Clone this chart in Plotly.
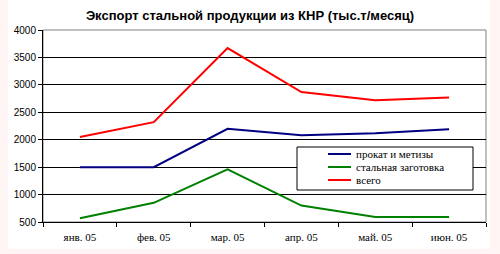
import plotly.graph_objects as go

months = ["янв. 05", "фев. 05", "мар. 05", "апр. 05", "май. 05", "июн. 05"]
prokat = [1500, 1500, 2200, 2080, 2120, 2190]
zagotovka = [570, 850, 1460, 800, 590, 590]
vsego = [2050, 2320, 3670, 2870, 2720, 2770]
names = ["прокат и метизы", "стальная заготовка", "всего"]
colors = ["#000080", "#008000", "#ff0000"]

W, H = 500, 254
L, R, T, B = 43, 14, 30, 32
pw, ph = W - L - R, H - T - B
SERIF = "Liberation Serif, Times New Roman, serif"

fig = go.Figure()
for name, vals, c in zip(names, [prokat, zagotovka, vsego], colors):
    fig.add_trace(go.Scatter(x=months, y=vals, name=name, mode="lines",
                             line=dict(color=c, width=2), showlegend=False))

def px(x):
    return (x - L) / pw

def py(y):
    return (H - B - y) / ph

shapes = [
    dict(type="rect", xref="paper", yref="paper", layer="below",
         x0=px(8), x1=px(490), y0=py(249), y1=py(0),
         fillcolor="white", line=dict(width=0)),
    dict(type="rect", xref="paper", yref="paper", layer="below",
         x0=0, x1=1, y0=0, y1=1, fillcolor="rgba(0,0,0,0)",
         line=dict(color="#808080", width=1)),
    dict(type="rect", xref="paper", yref="paper", layer="above",
         x0=px(297), x1=px(473), y0=py(190), y1=py(147),
         fillcolor="white", line=dict(color="black", width=1)),
]
annotations = []
for i, (name, c) in enumerate(zip(names, colors)):
    yy = 154 + 13 * i
    shapes.append(dict(type="line", xref="paper", yref="paper", layer="above",
                       x0=px(328), x1=px(351), y0=py(yy), y1=py(yy),
                       line=dict(color=c, width=2)))
    annotations.append(dict(xref="paper", yref="paper", x=px(354), y=py(yy),
                            xanchor="left", yanchor="middle", showarrow=False,
                            text=name, font=dict(family=SERIF, size=11, color="black")))

fig.update_layout(
    width=W, height=H,
    margin=dict(l=L, r=R, t=T, b=B, pad=0),
    paper_bgcolor="#fff5f5",
    plot_bgcolor="#ccccff",
    title=dict(text="<b>Экспорт стальной продукции из КНР (тыс.т/месяц)</b>",
               x=0.5, xanchor="center", y=1 - 15 / H, yanchor="middle",
               font=dict(family="Liberation Sans", size=13, color="black")),
    xaxis=dict(type="category", tickson="boundaries", ticks="outside", ticklen=4,
               tickcolor="black", showline=True, linecolor="black", linewidth=1,
               showgrid=False, range=[-0.5, 5.5], ticklabelstandoff=5,
               tickfont=dict(family=SERIF, size=11, color="black")),
    yaxis=dict(range=[500, 4000], dtick=500, tick0=500, ticks="outside", ticklen=4,
               tickcolor="black", showline=True, linecolor="black", linewidth=1,
               showgrid=True, gridcolor="black", gridwidth=1, zeroline=False,
               tickfont=dict(family="Liberation Sans", size=10, color="black")),
    showlegend=False,
    shapes=shapes,
    annotations=annotations,
)

fig.write_html("out.html")
